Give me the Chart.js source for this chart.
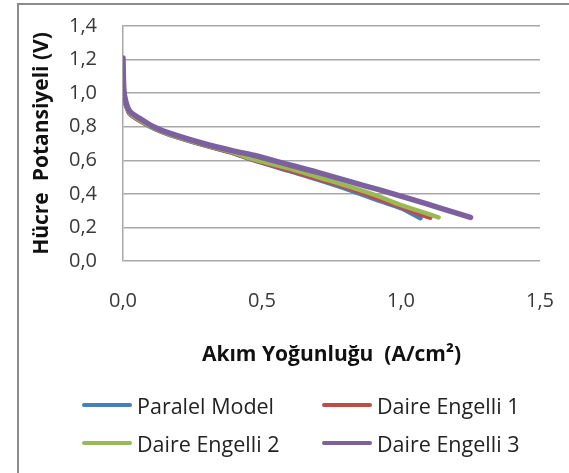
<!DOCTYPE html>
<html lang="tr">
<head>
  <meta charset="UTF-8">
  <script src="https://cdn.jsdelivr.net/npm/chart.js"></script>
  <title>Hücre Potansiyeli</title>
  <style>
    html, body { margin: 0; padding: 0; background: #fff; }
    #kutu { position: relative; width: 569px; height: 473px; overflow: hidden; }
    #cerceve { position: absolute; left: 17px; top: 3px; width: 600px; height: 520px;
               border-left: 2px solid #8c8c8c; border-top: 2px solid #8c8c8c; }
    canvas { position: absolute; left: 0; top: 0; }
    .leg { position: absolute; display: flex; align-items: center; height: 28px;
           font-family: "Open Sans", "Liberation Sans", sans-serif; font-size: 21.5px; color: #222; }
    .leg span.cizgi { display: inline-block; width: 50px; height: 4px; margin-right: 5px; border-radius: 2px; }
  </style>
</head>
<body>
  <div id="kutu">
    <div id="cerceve"></div>
    <canvas id="grafik" width="569" height="473"></canvas>
    <div class="leg" style="left:82px; top:391px;"><span class="cizgi" style="background:#4a7ebb"></span>Paralel Model</div>
    <div class="leg" style="left:322px; top:391px;"><span class="cizgi" style="background:#be4b48"></span>Daire Engelli 1</div>
    <div class="leg" style="left:82px; top:429px;"><span class="cizgi" style="background:#98b954"></span>Daire Engelli 2</div>
    <div class="leg" style="left:322px; top:429px;"><span class="cizgi" style="background:#7d60a0"></span>Daire Engelli 3</div>
  </div>

  <script>
    // akım yoğunluğu (A/cm2) ve hücre potansiyeli (V)
    const paralelX = [0, 0.003, 0.01, 0.025, 0.06, 0.11, 0.17, 0.29, 0.4, 0.46, 0.6, 0.7, 0.82, 0.92, 1.0, 1.07];
    const paralelY = [1.0, 0.97, 0.93, 0.875, 0.835, 0.79, 0.75, 0.69, 0.64, 0.605, 0.535, 0.485, 0.42, 0.36, 0.315, 0.255];

    const daire1X = [0, 0.003, 0.01, 0.025, 0.06, 0.11, 0.17, 0.29, 0.4, 0.46, 0.6, 0.7, 0.82, 0.92, 1.0, 1.05, 1.105];
    const daire1Y = [1.0, 0.97, 0.93, 0.875, 0.837, 0.792, 0.752, 0.692, 0.642, 0.607, 0.54, 0.49, 0.43, 0.37, 0.322, 0.29, 0.258];

    const daire2X = [0, 0.003, 0.01, 0.025, 0.06, 0.11, 0.17, 0.29, 0.4, 0.46, 0.6, 0.7, 0.82, 0.92, 1.0, 1.07, 1.135];
    const daire2Y = [1.0, 0.97, 0.935, 0.88, 0.84, 0.793, 0.753, 0.693, 0.645, 0.61, 0.55, 0.5, 0.44, 0.385, 0.333, 0.295, 0.26];

    const daire3X = [0, 0.003, 0.01, 0.025, 0.06, 0.11, 0.17, 0.29, 0.4, 0.47, 0.6, 0.7, 0.82, 0.92, 1.03, 1.15, 1.25];
    const daire3Y = [1.21, 1.02, 0.95, 0.89, 0.85, 0.80, 0.76, 0.70, 0.655, 0.63, 0.572, 0.528, 0.471, 0.425, 0.372, 0.31, 0.26];

    const seriAdlari = ['Paralel Model', 'Daire Engelli 1', 'Daire Engelli 2', 'Daire Engelli 3'];
    const renkler = ['#4a7ebb', '#be4b48', '#98b954', '#7d60a0'];

    const noktalar = (xs, ys) => xs.map((x, i) => ({ x: x, y: ys[i] }));
    const seriler = [
      noktalar(paralelX, paralelY),
      noktalar(daire1X, daire1Y),
      noktalar(daire2X, daire2Y),
      noktalar(daire3X, daire3Y)
    ];

    const yazi = '"Open Sans", "Liberation Sans", sans-serif';
    const virgul = v => v.toFixed(1).replace('.', ',');

    new Chart(document.getElementById('grafik'), {
      type: 'scatter',
      data: {
        datasets: seriler.map((d, i) => ({
          label: seriAdlari[i],
          data: d,
          showLine: true,
          borderColor: renkler[i],
          backgroundColor: renkler[i],
          borderWidth: i === 3 ? 5.5 : 4.5,
          borderCapStyle: 'round',
          borderJoinStyle: 'round',
          pointRadius: 0,
          tension: 0.3,
          order: 4 - i
        }))
      },
      options: {
        responsive: false,
        animation: false,
        layout: { padding: { left: 29, right: 29, top: 26, bottom: 105 } },
        plugins: {
          legend: { display: false },
          tooltip: { enabled: false }
        },
        scales: {
          x: {
            type: 'linear',
            min: 0, max: 1.5,
            afterFit: s => { s.height = 107; },
            ticks: {
              stepSize: 0.5,
              padding: 3,
              maxRotation: 0,
              color: '#383838',
              font: { family: yazi, size: 20 },
              callback: v => virgul(v)
            },
            // görünmez çentikler, etiketleri eksenden uzaklaştırmak için
            grid: { color: 'rgba(0,0,0,0)', tickColor: 'rgba(0,0,0,0)', tickLength: 25 },
            border: { display: false },
            title: {
              display: true,
              text: 'Akım Yoğunluğu  (A/cm²)',
              color: '#111',
              font: { family: yazi, size: 21, weight: 'bold' },
              padding: 0
            }
          },
          y: {
            min: 0, max: 1.4,
            afterFit: s => { s.width = 94; },
            ticks: {
              stepSize: 0.2,
              padding: 4,
              color: '#383838',
              font: { family: yazi, size: 20 },
              callback: v => virgul(v)
            },
            grid: { color: '#a8a8a8', lineWidth: 1.5, tickColor: 'rgba(0,0,0,0)', tickLength: 22 },
            border: { display: true, color: '#a8a8a8', width: 1.5 },
            title: {
              display: true,
              text: 'Hücre  Potansiyeli (V)',
              color: '#111',
              font: { family: yazi, size: 21, weight: 'bold' },
              padding: 0
            }
          }
        }
      }
    });
  </script>
</body>
</html>
